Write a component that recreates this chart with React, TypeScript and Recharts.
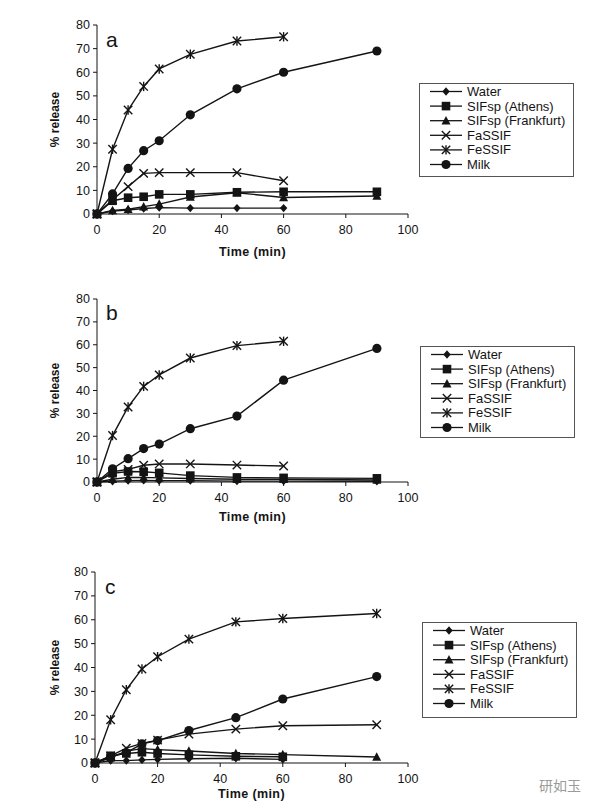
import React from 'react';
import { LineChart, Line, XAxis, YAxis, Legend } from 'recharts';

// Sampling times (min)
const TIME = [0, 5, 10, 15, 20, 30, 45, 60, 90];
const X_TICKS = [0, 20, 40, 60, 80, 100];
const Y_TICKS = [0, 10, 20, 30, 40, 50, 60, 70, 80];

// Panel a — % release
const WATER_A = [0, 1.2, 1.7, 2.3, 2.7, 2.5, 2.5, 2.5, null];
const ATHENS_A = [0, 5.6, 6.9, 7.3, 8.3, 8.3, 9.2, 9.4, 9.4];
const FRANKFURT_A = [0, 1.5, 2.0, 3.1, 4.2, 7.2, 9.0, 7.0, 7.6];
const FASSIF_A = [0, 6.0, 11.6, 17.2, 17.5, 17.5, 17.5, 14.1, null];
const FESSIF_A = [0, 27.4, 44.0, 54.0, 61.4, 67.6, 73.2, 75.0, null];
const MILK_A = [0, 8.5, 19.3, 26.8, 31.0, 42.0, 53.0, 60.0, 69.0];

// Panel b — % release
const WATER_B = [0, 0.3, 0.6, 0.7, 0.6, 0.6, 0.4, 0.4, 0.3];
const ATHENS_B = [0, 3.8, 4.6, 4.5, 4.0, 2.8, 2.0, 1.8, 1.6];
const FRANKFURT_B = [0, 1.2, 2.0, 2.0, 1.8, 1.5, 1.2, 1.2, 0.9];
const FASSIF_B = [0, 4.5, 5.5, 7.3, 7.9, 7.9, 7.4, 7.0, null];
const FESSIF_B = [0, 20.3, 32.8, 41.8, 46.8, 54.2, 59.6, 61.5, null];
const MILK_B = [0, 5.8, 10.2, 14.6, 16.6, 23.3, 28.8, 44.5, 58.4];

// Panel c — % release
const WATER_C = [0, 1.0, 1.0, 1.3, 1.5, 1.8, 2.0, 1.5, null];
const ATHENS_C = [0, 3.0, 4.0, 4.5, 4.0, 3.4, 2.8, 2.6, null];
const FRANKFURT_C = [0, 2.2, 5.0, 6.0, 5.6, 5.0, 4.0, 3.5, 2.5];
const FASSIF_C = [0, 3.0, 6.2, 8.2, 9.6, 12.1, 14.2, 15.6, 16.0];
const FESSIF_C = [0, 18.1, 30.7, 39.4, 44.5, 51.9, 59.1, 60.5, 62.6];
const MILK_C = [0, 2.8, 4.3, 8.0, 9.4, 13.6, 19.0, 26.8, 36.2];

const SERIES = [
  { key: 'water', name: 'Water', shape: 'diamond' },
  { key: 'athens', name: 'SIFsp (Athens)', shape: 'square' },
  { key: 'frankfurt', name: 'SIFsp (Frankfurt)', shape: 'triangle' },
  { key: 'fassif', name: 'FaSSIF', shape: 'cross' },
  { key: 'fessif', name: 'FeSSIF', shape: 'star' },
  { key: 'milk', name: 'Milk', shape: 'circle' },
];

const INK = '#141414';
const FONT = '"Liberation Sans", Arial, sans-serif';

function buildRows(cols: Record<string, (number | null)[]>) {
  return TIME.map((t, i) => {
    const row: Record<string, number | null> = { t };
    Object.keys(cols).forEach((k) => {
      row[k] = cols[k][i];
    });
    return row;
  });
}

const PANELS = [
  {
    letter: 'a',
    top: 0,
    height: 270,
    margin: { top: 25, right: 188, bottom: 26, left: 0 },
    yWidth: 97,
    titleOffset: 38,
    legend: { left: 419, top: 83, height: 94 },
    rows: buildRows({ water: WATER_A, athens: ATHENS_A, frankfurt: FRANKFURT_A, fassif: FASSIF_A, fessif: FESSIF_A, milk: MILK_A }),
    letterPos: { left: 106, top: 29 },
  },
  {
    letter: 'b',
    top: 275,
    height: 260,
    margin: { top: 24, right: 188, bottom: 23, left: 0 },
    yWidth: 97,
    titleOffset: 35,
    legend: { left: 420, top: 346, height: 92 },
    rows: buildRows({ water: WATER_B, athens: ATHENS_B, frankfurt: FRANKFURT_B, fassif: FASSIF_B, fessif: FESSIF_B, milk: MILK_B }),
    letterPos: { left: 106, top: 302 },
  },
  {
    letter: 'c',
    top: 545,
    height: 267,
    margin: { top: 27, right: 188, bottom: 19, left: 0 },
    yWidth: 95,
    titleOffset: 31,
    legend: { left: 422, top: 622, height: 96 },
    rows: buildRows({ water: WATER_C, athens: ATHENS_C, frankfurt: FRANKFURT_C, fassif: FASSIF_C, fessif: FESSIF_C, milk: MILK_C }),
    letterPos: { left: 105, top: 576 },
  },
];

function Marker({ shape, cx, cy }: { shape: string; cx: number; cy: number }) {
  switch (shape) {
    case 'diamond':
      return <polygon points={`${cx},${cy - 4.2} ${cx + 3.7},${cy} ${cx},${cy + 4.2} ${cx - 3.7},${cy}`} fill={INK} />;
    case 'square':
      return <rect x={cx - 4.3} y={cy - 4.3} width={8.6} height={8.6} fill={INK} />;
    case 'triangle':
      return <polygon points={`${cx},${cy - 4.8} ${cx + 4.5},${cy + 3.7} ${cx - 4.5},${cy + 3.7}`} fill={INK} />;
    case 'cross':
      return (
        <g stroke={INK} strokeWidth={1.4}>
          <line x1={cx - 4.2} y1={cy - 4.2} x2={cx + 4.2} y2={cy + 4.2} />
          <line x1={cx - 4.2} y1={cy + 4.2} x2={cx + 4.2} y2={cy - 4.2} />
        </g>
      );
    case 'star':
      return (
        <g stroke={INK} strokeWidth={1.4}>
          <line x1={cx - 4.2} y1={cy - 4.2} x2={cx + 4.2} y2={cy + 4.2} />
          <line x1={cx - 4.2} y1={cy + 4.2} x2={cx + 4.2} y2={cy - 4.2} />
          <line x1={cx} y1={cy - 4.7} x2={cx} y2={cy + 4.7} />
        </g>
      );
    default:
      return <circle cx={cx} cy={cy} r={4.6} fill={INK} />;
  }
}

function makeDot(shape: string) {
  return (props: any) => {
    const { cx, cy, value, index } = props;
    if (value == null || cx == null || cy == null || Number.isNaN(cy)) return <g key={`e-${index}`} />;
    return (
      <g key={`d-${index}`}>
        <Marker shape={shape} cx={cx} cy={cy} />
      </g>
    );
  };
}

function LegendBox({ height }: { height: number }) {
  const w = 155;
  const step = 14.6;
  const first = 8.5;
  return (
    <svg width={w} height={height} style={{ display: 'block' }}>
      <rect x={0.5} y={0.5} width={w - 1} height={height - 1} fill="#fff" stroke="#555" strokeWidth={1} />
      {SERIES.map((s, i) => {
        const y = first + i * step;
        return (
          <g key={s.key}>
            <line x1={11} y1={y} x2={43} y2={y} stroke={INK} strokeWidth={1.3} />
            <Marker shape={s.shape} cx={27} cy={y} />
            <text x={48} y={y} dominantBaseline="central" fontFamily={FONT} fontSize={13} fill={INK}>
              {s.name}
            </text>
          </g>
        );
      })}
    </svg>
  );
}

function Panel({ p }: { p: (typeof PANELS)[number] }) {
  return (
    <div style={{ position: 'absolute', left: 0, top: p.top, width: 596, height: p.height }}>
      <LineChart width={596} height={p.height} data={p.rows} margin={p.margin}>
        <XAxis
          dataKey="t"
          type="number"
          domain={[0, 100]}
          ticks={X_TICKS}
          height={30}
          tickSize={4}
          tickMargin={7}
          stroke={INK}
          tick={{ fontFamily: FONT, fontSize: 12.5, fill: INK }}
          label={(lp: any) => {
            const vb = lp.viewBox || {};
            return (
              <text
                x={vb.x + vb.width / 2}
                y={vb.y + p.titleOffset}
                textAnchor="middle"
                dominantBaseline="central"
                fontFamily={FONT}
                fontWeight="bold"
                fontSize={12.5}
                letterSpacing={0.4}
                fill={INK}
              >
                Time (min)
              </text>
            );
          }}
        />
        <XAxis xAxisId="frameTop" orientation="top" type="number" dataKey="t" domain={[0, 100]} height={0} tick={false} tickLine={false} stroke="#777" />
        <YAxis
          type="number"
          domain={[0, 80]}
          ticks={Y_TICKS}
          width={p.yWidth}
          tickSize={4}
          tickMargin={3}
          stroke={INK}
          tick={{ fontFamily: FONT, fontSize: 12.5, fill: INK }}
          label={(lp: any) => {
            const vb = lp.viewBox || {};
            const cy = vb.y + vb.height / 2;
            return (
              <text
                x={55}
                y={cy}
                transform={`rotate(-90 55 ${cy})`}
                textAnchor="middle"
                dominantBaseline="central"
                fontFamily={FONT}
                fontWeight="bold"
                fontSize={12}
                fill={INK}
              >
                % release
              </text>
            );
          }}
        />
        <YAxis yAxisId="frameRight" orientation="right" type="number" domain={[0, 80]} width={0} tick={false} tickLine={false} stroke="#777" />
        <Legend
          layout="vertical"
          align="center"
          verticalAlign="middle"
          wrapperStyle={{ left: p.legend.left, top: p.legend.top - p.top, width: 155, height: p.legend.height }}
          content={() => <LegendBox height={p.legend.height} />}
        />
        {SERIES.map((s) => (
          <Line
            key={s.key}
            dataKey={s.key}
            name={s.name}
            type="linear"
            stroke={INK}
            strokeWidth={1.4}
            dot={makeDot(s.shape)}
            activeDot={false}
            isAnimationActive={false}
          />
        ))}
      </LineChart>
      <div
        style={{
          position: 'absolute',
          left: p.letterPos.left,
          top: p.letterPos.top - p.top,
          fontFamily: FONT,
          fontSize: 21,
          color: INK,
          lineHeight: 1,
        }}
      >
        {p.letter}
      </div>
    </div>
  );
}

export default function App() {
  return (
    <div style={{ position: 'absolute', left: 0, top: 0, width: 596, height: 812, background: '#fff', overflow: 'hidden' }}>
      {PANELS.map((p) => (
        <Panel key={p.letter} p={p} />
      ))}
      <div
        style={{
          position: 'absolute',
          left: 539,
          top: 775,
          fontFamily: '"Noto Sans CJK SC", sans-serif',
          fontSize: 14,
          color: '#9a9a9a',
        }}
      >
        研如玉
      </div>
    </div>
  );
}
